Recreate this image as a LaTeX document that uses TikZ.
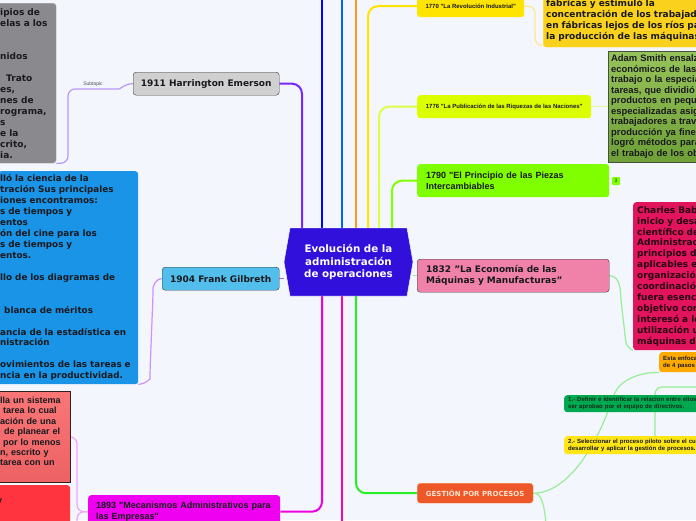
\documentclass[tikz,border=0pt]{standalone}
\usepackage{fontspec}
\setmainfont{DejaVu Sans}
\newfontfamily\arialfont{Liberation Sans}
\usepackage{tikz}
\usetikzlibrary{shapes.symbols,backgrounds}
\definecolor{paper}{RGB}{243,246,253}
\definecolor{coreblue}{RGB}{48,16,218}
\definecolor{brblue}{RGB}{0,0,255}
\definecolor{brblue2}{RGB}{0,96,255}
\definecolor{brorange}{RGB}{255,150,30}
\definecolor{bryel}{RGB}{255,228,0}
\definecolor{bryg}{RGB}{218,255,70}
\definecolor{brlime}{RGB}{130,255,0}
\definecolor{brpurp}{RGB}{120,40,255}
\definecolor{brmag}{RGB}{240,0,225}
\definecolor{brpink}{RGB}{255,0,175}
\definecolor{brgreen}{RGB}{40,238,40}
\definecolor{gilln}{RGB}{170,100,250}
\definecolor{subpurp}{RGB}{185,150,250}
\definecolor{subvio}{RGB}{205,145,250}
\definecolor{submag}{RGB}{240,165,245}
\definecolor{subyel}{RGB}{255,232,140}
\definecolor{subyg}{RGB}{228,250,150}
\definecolor{subgrn}{RGB}{150,238,150}
\definecolor{grayfill}{RGB}{208,208,208}
\definecolor{graybd}{RGB}{60,60,65}
\definecolor{gilfill}{RGB}{82,190,235}
\definecolor{magfill}{RGB}{240,0,240}
\definecolor{yelbox}{RGB}{255,228,0}
\definecolor{ygbox}{RGB}{220,255,0}
\definecolor{limebox}{RGB}{128,255,0}
\definecolor{pinkbox}{RGB}{240,130,170}
\definecolor{gestf}{RGB}{238,88,40}
\definecolor{gestbd}{RGB}{255,190,160}
\definecolor{gesttx}{RGB}{255,228,210}
\definecolor{gold}{RGB}{250,210,30}
\definecolor{goldbd}{RGB}{255,232,150}
\definecolor{smithtop}{RGB}{150,195,90}
\definecolor{smithbot}{RGB}{110,160,55}
\definecolor{smithbd}{RGB}{70,80,60}
\definecolor{crim}{RGB}{225,20,92}
\definecolor{crimtx}{RGB}{40,0,20}
\definecolor{orng}{RGB}{255,170,0}
\definecolor{dgreen}{RGB}{0,168,80}
\definecolor{dgtx}{RGB}{15,45,25}
\definecolor{selyel}{RGB}{255,230,20}
\definecolor{grybox}{RGB}{138,138,142}
\definecolor{grybd}{RGB}{200,200,205}
\definecolor{blubox}{RGB}{26,148,230}
\definecolor{rdtop}{RGB}{250,118,118}
\definecolor{rdmid}{RGB}{214,44,48}
\definecolor{rdbot}{RGB}{236,98,100}
\definecolor{rdbd}{RGB}{50,30,30}
\definecolor{rdtwo}{RGB}{255,52,62}
\definecolor{textdk}{RGB}{25,25,30}
\definecolor{subtx}{RGB}{80,80,90}
\definecolor{cnttx}{RGB}{40,110,0}

\begin{document}
\begin{tikzpicture}[x=1pt, y=-1pt, text=textdk,
  box/.style={anchor=north west, rounded corners=3pt, inner xsep=6pt, inner ysep=0pt,
    font=\bfseries\fontsize{9}{11}\selectfont},
  boxtxt/.style={box, align=left, inner xsep=4pt},
  tiny/.style={font=\arialfont\bfseries\fontsize{6}{7}\selectfont},
  arialtxt/.style={font=\arialfont\bfseries\fontsize{9}{11}\selectfont},
  br/.style={line width=2pt, rounded corners=10pt},
  sub/.style={line width=1.2pt, rounded corners=7pt}]
\useasboundingbox (0,0) rectangle (696,520);

\node[signal, signal to=west and east, signal pointer angle=160, fill=coreblue, draw=white,
  minimum width=129pt, minimum height=68pt, inner sep=2pt, text=white, align=center,
  font=\bfseries\fontsize{10.3}{12.7}\selectfont] (core) at (348.5,262)
  {Evolución de la\\administración\\de operaciones};

\node[box, fill=grayfill, draw=graybd, minimum width=146pt, minimum height=23pt] (harr) at (133,72) {1911 Harrington Emerson};
\node[box, fill=gilfill, draw=graybd, minimum width=117pt, minimum height=23pt] (gil) at (162,267) {1904 Frank Gilbreth};
\node[box, fill=magfill, inner xsep=8pt, minimum width=192pt, minimum height=33pt, text width=176pt, align=left, arialtxt] (mec) at (88,495)
  {1893 "Mecanismos Administrativos para\\las Empresas"};
\node[font=\arialfont\fontsize{5}{6}\selectfont, text=subtx, inner sep=1pt] (subt) at (93,84) {Subtopic};

\node[boxtxt, fill=grybox, draw=grybd, minimum height=160pt, text width=52pt] (gry) at (-4,3)
  {ipios de\\elas a los\\\mbox{}\\\mbox{}\\nidos\\\mbox{}\\\hspace*{6pt}Trato\\es,\\nes de\\rograma,\\s\\e la\\crito,\\ia.};
\node[boxtxt, fill=blubox, inner xsep=2pt, minimum height=213pt, text width=136pt, font=\bfseries\fontsize{8.8}{10.94}\selectfont] (blu) at (-2,171)
  {lló la ciencia de la\\tración Sus principales\\iones encontramos:\\s de tiempos y\\entos\\ón del cine para los\\s de tiempos y\\entos.\\\mbox{}\\llo de los diagramas de\\\mbox{}\\\mbox{}\\\hspace*{4pt}blanca de méritos\\\mbox{}\\ancia de la estadística en\\nistración\\\mbox{}\\ovimientos de las tareas e\\ncia en la productividad.};
\node[boxtxt, rounded corners=0pt, draw=rdbd, top color=rdtop, middle color=rdmid, bottom color=rdbot, minimum height=91pt, text width=66pt,
  font=\arialfont\bfseries\fontsize{9}{10.4}\selectfont] (rd1) at (-4,391)
  {lla un sistema\\\hspace*{3pt}tarea lo cual\\ación de una\\\hspace*{4pt}de planear el\\\hspace*{3pt}por lo menos\\n, escrito y\\tarea con un\\\mbox{}};
\node[boxtxt, fill=rdtwo, minimum height=84pt, text width=66pt, font=\arialfont\bfseries\fontsize{9}{10.4}\selectfont] (rd2) at (-4,485)
  {\hspace*{-3pt}y\\\mbox{}\\\mbox{}\\\mbox{}\\\mbox{}\\\mbox{}};

\node[box, fill=yelbox, minimum width=107pt, minimum height=22pt, tiny] (rev) at (417,-5) {1770 "La Revolución Industrial"};
\node[box, fill=ygbox, minimum width=174pt, minimum height=23pt, tiny] (pub) at (417,95) {1776 "La Publicación de las Riquezas de las Naciones"};
\node[box, fill=limebox, inner xsep=9pt, minimum width=192pt, minimum height=33pt, text width=174pt, align=left, arialtxt] (pie) at (417,164)
  {1790 "El Principio de las Piezas\\Intercambiables};
\node[fill=limebox, rounded corners=1pt, minimum size=8pt, inner sep=0pt, text=cnttx, font=\arialfont\bfseries\fontsize{5}{5}\selectfont] (cnt) at (616,181) {3};
\node[box, fill=pinkbox, draw=graybd, inner xsep=9pt, minimum width=192pt, minimum height=33pt, text width=174pt, align=left] (eco) at (417,259)
  {1832 "La Economía de las\\Máquinas y Manufacturas"};
\node[box, fill=gestf, draw=gestbd, text=gesttx, minimum width=116pt, minimum height=20pt, font=\bfseries\fontsize{7}{8}\selectfont] (gest) at (417,483)
  {GESTIÓN POR PROCESOS};

\node[boxtxt, fill=gold, draw=goldbd, inner xsep=3pt, minimum height=57pt, text width=200pt] (fab) at (543,-10)
  {\mbox{}\\fábricas y estimuló la\\concentración de los trabajad\\en fábricas lejos de los ríos pa\\la producción de las máquinas};
\node[boxtxt, rounded corners=0pt, top color=smithtop, bottom color=smithbot, draw=smithbd, inner xsep=3pt, minimum height=111pt, text width=130pt,
  font=\arialfont\bfseries\fontsize{9.4}{10.5}\selectfont] (smith) at (608,51)
  {Adam Smith ensalz\\económicos de las\\trabajo o la especia\\tareas, que dividió l\\productos en peque\\especializadas asig\\trabajadores a travé\\producción ya fines\\logró métodos para\\el trabajo de los ob};
\node[boxtxt, fill=crim, text=crimtx, minimum height=148pt, text width=130pt, font=\bfseries\fontsize{9}{10.9}\selectfont] (babb) at (633,202)
  {Charles Bab\\inicio y desa\\científico de\\Administrac\\principios d\\aplicables e\\organización\\coordinación\\fuera esenci\\objetivo com\\interesó a lo\\utilización u\\máquinas de};
\node[boxtxt, fill=orng, minimum height=20pt, text width=60pt, tiny] (enf) at (659,352) {Esta enfoca\\de 4 pasos a};
\node[boxtxt, fill=dgreen, text=dgtx, minimum height=17pt, text width=200pt, font=\arialfont\bfseries\fontsize{6}{6.8}\selectfont] (def) at (564,395)
  {1.- Definir e identificar la relacion entre ellos e\\ser aprobao por el equipo de directivos.};
\node[boxtxt, fill=selyel, minimum height=18pt, text width=200pt, font=\arialfont\bfseries\fontsize{6}{6.8}\selectfont] (sel) at (564,436)
  {2.- Seleccionar el proceso piloto sobre el cual v\\desarrollar y aplicar la gestión de procesos.};

\coordinate (upA) at (322,-3);
\coordinate (upB) at (342,-3);
\coordinate (upC) at (356,-3);
\coordinate (dnB) at (342,523);
\coordinate (gdn) at (546,523);
\coordinate (offR) at (700,387);

\begin{scope}[on background layer]
\fill[paper] (0,0) rectangle (696,520);
\draw[br, brblue] (core.north -| upA) -- (upA);
\draw[br, brblue2] (core.north -| upB) -- (upB);
\draw[br, brorange] (core.north -| upC) -- (upC);
\draw[br, bryel] (core.north -| 368,0) |- (rev.west);
\draw[br, bryg] (core.north -| 379,0) |- (pub.west);
\draw[br, brlime] (core.north -| 392,0) |- (pie.west);
\draw[br, brpurp] (core.north -| 302,0) |- (harr.east);
\draw[line width=1.2pt, gilln] (gil.east) -- (gil.east -| core.west);
\draw[br, brmag] (core.south -| 322,0) |- (mec.east);
\draw[br, brpink] (core.south -| dnB) -- (dnB);
\draw[br, brgreen] (core.south -| 356,0) |- (gest.west);
\draw[line width=1.2pt, subgrn] (core.east |- eco.west) -- (eco.west);

\draw[sub, subpurp] (harr.west) to[out=180,in=0] (112,89) -- (68,89) -- (68,163) -- (gry.south east);
\draw[sub, subvio] (gil.west) to[out=180,in=90] (153,295) -- (150,372) to[out=270,in=0] (blu.south east);
\draw[sub, submag] (mec.west) -| (77,437) -- (rd1.east);
\draw[sub, submag] (mec.west) -| (77,540) -- (rd2.east);
\draw[sub, subyel] (rev.east) -| (535,45) -- ([yshift=2pt]fab.south west);
\draw[sub, subyg] (pub.east) -- (smith.west);
\draw[sub, subgrn] (eco.east) .. controls (618,276) and (620,285) .. (621,300) -- (625,335) .. controls (626,344) and (629,349) .. (babb.south west);
\draw[sub, subgrn] (gest.east) .. controls (570,493) and (598,440) .. (612,400) .. controls (620,380) and (640,372) .. (enf.south west);
\draw[sub, subgrn] (gest.east) .. controls (542,493) and (544,505) .. (gdn);
\draw[sub, subgrn] (offR) -| (sel.north -| 655,0);
\end{scope}
\end{tikzpicture}
\end{document}
